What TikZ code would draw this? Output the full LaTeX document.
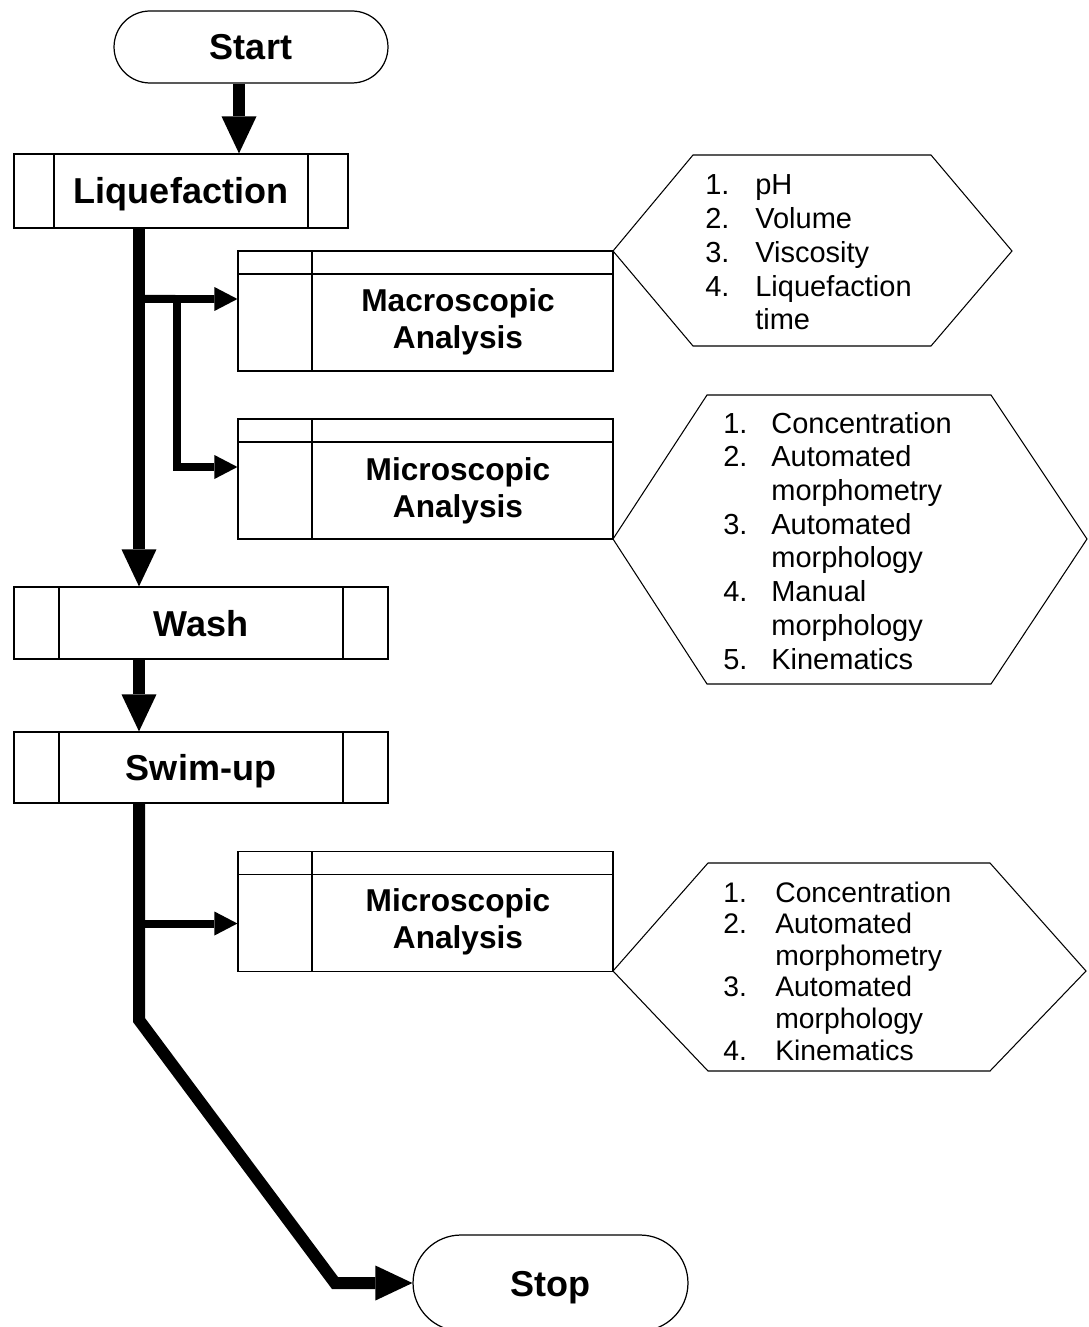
\documentclass[tikz,border=0pt]{standalone}
\usepackage{fontspec}
\setmainfont{Liberation Sans}
\usetikzlibrary{arrows.meta,calc}

\newcommand{\stagefont}{\fontsize{20.5pt}{24pt}\selectfont\bfseries}
\newcommand{\anafont}{\fontsize{18pt}{21pt}\selectfont\bfseries}
\newcommand{\itemfont}{\fontsize{16.5pt}{19.2pt}\selectfont}
\newcommand{\smallitemfont}{\fontsize{16.1pt}{18pt}\selectfont}

\begin{document}
\begin{tikzpicture}[x=0.02cm, y=-0.02cm,
    terminal/.style={draw, line width=0.7pt, rounded corners=#1, font=\stagefont,
      text height=0.52cm, text depth=0pt},
    stagebox/.style={draw, line width=0.7pt, font=\stagefont, text height=0.52cm, text depth=0pt,
      path picture={\draw[line width=0.7pt]
        ([xshift=#1]path picture bounding box.north west) -- ([xshift=#1]path picture bounding box.south west)
        ([xshift=-#1]path picture bounding box.north east) -- ([xshift=-#1]path picture bounding box.south east);}},
    anabox/.style={draw, line width=0.7pt, minimum width=7.5cm, minimum height=2.4cm,
      path picture={\draw[line width=0.7pt]
        ([yshift=-0.46cm]path picture bounding box.north west) -- ([yshift=-0.46cm]path picture bounding box.north east)
        ([xshift=1.48cm]path picture bounding box.north west) -- ([xshift=1.48cm]path picture bounding box.south west);}},
    anatext/.style={font=\anafont, align=center, inner sep=0pt},
    listtext/.style={inner sep=0pt, anchor=base west},
    hexline/.style={line width=0.6pt, line join=miter},
    flow/.style={line width=0.24cm, -{Triangle[length=0.74cm, width=0.7cm, line width=0pt]}},
    branch/.style={line width=0.16cm, -{Triangle[length=0.46cm, width=0.48cm, line width=0pt]}}]
  \useasboundingbox (0,0) rectangle (1088,1327);

  \node (start) [terminal=0.72cm, minimum width=5.48cm, minimum height=1.44cm] at (251,47) {Start};
  \node (liq) [stagebox=0.8cm, minimum width=6.68cm, minimum height=1.48cm] at (181,191) {Liquefaction};
  \node (wash) [stagebox=0.9cm, minimum width=7.48cm, minimum height=1.44cm] at (201,623) {Wash};
  \node (swim) [stagebox=0.9cm, minimum width=7.48cm, minimum height=1.42cm] at (201,767.5) {Swim-up};
  \node (stop) [terminal=0.96cm, minimum width=5.5cm, minimum height=1.92cm] at (550.5,1283) {Stop};

  \node (macro) [anabox] at (425.5,311) {};
  \node (microa) [anabox] at (425.5,479) {};
  \node (microb) [anabox] at (425.5,911.5) {};
  \node (macrotxt) [anatext] at (458,321.5) {Macroscopic\\Analysis};
  \node (microatxt) [anatext] at (458,490.5) {Microscopic\\Analysis};
  \node (microbtxt) [anatext] at (458,922) {Microscopic\\Analysis};

  \draw[hexline] (613,251) -- (693,155) -- (931,155) -- (1012,251) -- (931,346) -- (693,346) -- cycle;
  \draw[hexline] (613,539) -- (707,395) -- (991,395) -- (1087,539) -- (991,684) -- (707,684) -- cycle;
  \draw[hexline] (613,971) -- (708,863) -- (990,863) -- (1086,971) -- (990,1071) -- (708,1071) -- cycle;

  \node (macrolist) [listtext, font=\itemfont] at (705,195) {\begin{tabular}[t]{@{}p{1cm}@{}l@{}}
    1. & pH\\ 2. & Volume\\ 3. & Viscosity\\ 4. & Liquefaction\\ & time\end{tabular}};
  \node (microalist) [listtext, font=\itemfont] at (723,433) {\begin{tabular}[t]{@{}p{0.96cm}@{}l@{}}
    1. & Concentration\\ 2. & Automated\\ & morphometry\\ 3. & Automated\\ & morphology\\
    4. & Manual\\ & morphology\\ 5. & Kinematics\end{tabular}};
  \node (microblist) [listtext, font=\smallitemfont] at (723,902) {\begin{tabular}[t]{@{}p{1.04cm}@{}l@{}}
    1. & Concentration\\ 2. & Automated\\ & morphometry\\ 3. & Automated\\ & morphology\\
    4. & Kinematics\end{tabular}};

  \coordinate (trunk) at (139,0);
  \coordinate (split) at (177,299);
  \coordinate (bendA) at (139,1020);
  \coordinate (bendB) at (335,1283);
  \coordinate (microbin) at ([yshift=-0.24cm]microb.west);

  \draw[flow] ([xshift=-0.24cm]start.south) -- ([xshift=-0.24cm]start.south |- liq.north);
  \draw[flow] (liq.south -| trunk) -- (wash.north -| trunk);
  \draw[branch] (trunk |- split) -- ([yshift=0.24cm]macro.west);
  \draw[branch] (split) |- ([yshift=0.24cm]microa.west);
  \draw[flow] (wash.south -| trunk) -- (swim.north -| trunk);
  \draw[branch] (trunk |- microbin) -- (microbin);
  \draw[flow] (swim.south -| trunk) -- (bendA) -- (bendB) -- (stop.west);
\end{tikzpicture}
\end{document}
